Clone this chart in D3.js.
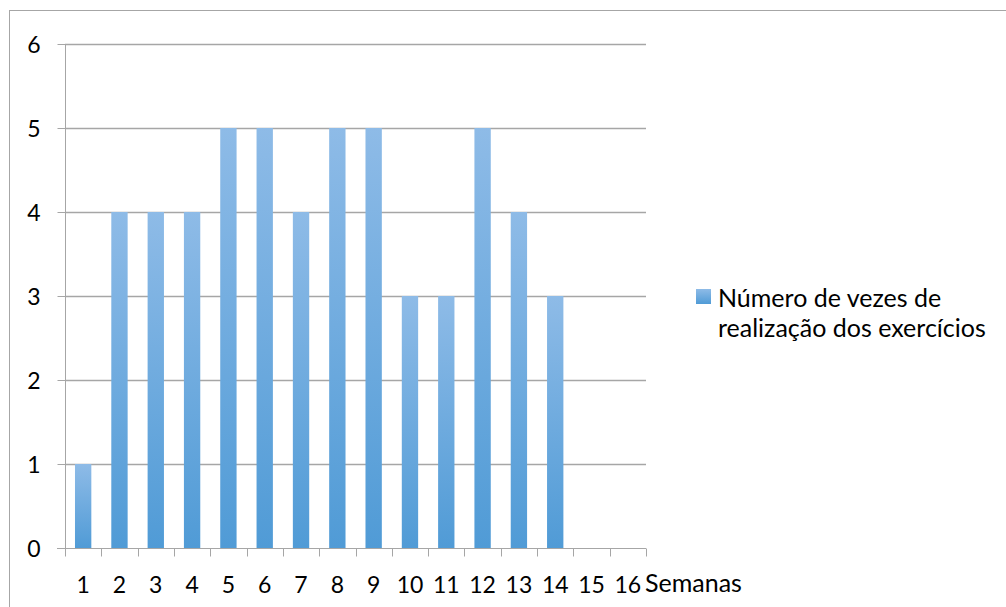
<!DOCTYPE html>
<html><head><meta charset="utf-8">
<script src="https://cdn.jsdelivr.net/npm/d3@7"></script>
<style>
html,body{margin:0;padding:0;background:#fff;}
svg{display:block;font-family:Lato,"Open Sans",sans-serif;}
</style></head>
<body>
<svg id="c" width="1006" height="607"></svg>
<script>
const categories = ["1","2","3","4","5","6","7","8","9","10","11","12","13","14","15","16"];
const values = [1,4,4,4,5,5,4,5,5,3,3,5,4,3,null,null];
const yTicks = [0,1,2,3,4,5,6];
const seriesName = ["Número de vezes de","realização dos exercícios"];
const xTitle = "Semanas";

const svg = d3.select("#c");
const m = {left:65, top:44, right:646, bottom:548};

// outer border
svg.append("rect").attr("x",9.5).attr("y",10.5).attr("width",1010).attr("height",620)
  .attr("fill","none").attr("stroke","#a6a6a6").attr("stroke-width",1);

const defs = svg.append("defs");
const g = defs.append("linearGradient").attr("id","bar").attr("x1",0).attr("y1",0).attr("x2",0).attr("y2",1);
g.append("stop").attr("offset","0%").attr("stop-color","#8ebbe7");
g.append("stop").attr("offset","100%").attr("stop-color","#509bd6");

const x = d3.scaleBand().domain(categories).range([m.left,m.right]).paddingInner(0.55).paddingOuter(0.275);
const xc = d3.scaleBand().domain(categories).range([m.left,m.right]);
const y = d3.scaleLinear().domain([0,6]).range([m.bottom,m.top]);

// gridlines
svg.append("g").selectAll("line").data(yTicks.filter(d=>d>0)).join("line")
  .attr("x1",m.left).attr("x2",m.right).attr("y1",d=>Math.round(y(d))+0.5).attr("y2",d=>Math.round(y(d))+0.5)
  .attr("stroke","#a6a6a6").attr("stroke-width",1.3);

// bars
svg.append("g").selectAll("rect").data(categories.map((c,i)=>({c,v:values[i]})).filter(d=>d.v!=null)).join("rect")
  .attr("x",d=>x(d.c)).attr("width",x.bandwidth())
  .attr("y",d=>y(d.v)).attr("height",d=>y(0)-y(d.v))
  .attr("fill","url(#bar)");

// y axis
const yAxis = d3.axisLeft(y).tickValues(yTicks).tickSize(8).tickPadding(17).tickFormat(d3.format("d"));
const ya = svg.append("g").attr("transform",`translate(${m.left+0.5},0)`).call(yAxis);
ya.select(".domain").attr("stroke","#a6a6a6").attr("d",`M0,${m.top}V${m.bottom}`);
ya.selectAll(".tick line").attr("stroke","#a6a6a6");
ya.selectAll(".tick text").attr("font-size",23).attr("fill","#000").attr("font-family","Lato").attr("dy","0.36em");

// x axis with ticks at category boundaries
const xa = svg.append("g").attr("transform",`translate(0,${m.bottom+0.5})`);
xa.append("line").attr("x1",m.left-8).attr("x2",m.right).attr("stroke","#a6a6a6");
const bounds = categories.map(c=>xc(c)).concat([m.right]);
xa.selectAll("line.t").data(bounds).join("line").attr("class","t")
  .attr("x1",d=>Math.round(d)+0.5).attr("x2",d=>Math.round(d)+0.5).attr("y1",0).attr("y2",8).attr("stroke","#a6a6a6");
xa.selectAll("text").data(categories).join("text")
  .attr("x",d=>xc(d)+xc.bandwidth()/2).attr("y",44).attr("text-anchor","middle")
  .attr("font-size",23).attr("fill","#000").text(d=>d);
svg.append("text").attr("x",m.right-1).attr("y",m.bottom+44).attr("font-size",25).attr("fill","#000").text(xTitle);

// legend
svg.append("rect").attr("x",696).attr("y",289).attr("width",15).attr("height",15).attr("fill","url(#bar)");
const lt = svg.append("text").attr("x",718).attr("y",307).attr("font-size",25).attr("fill","#000");
lt.selectAll("tspan").data(seriesName).join("tspan").attr("x",718).attr("dy",(d,i)=>i?30:0).text(d=>d);
</script>
</body></html>
